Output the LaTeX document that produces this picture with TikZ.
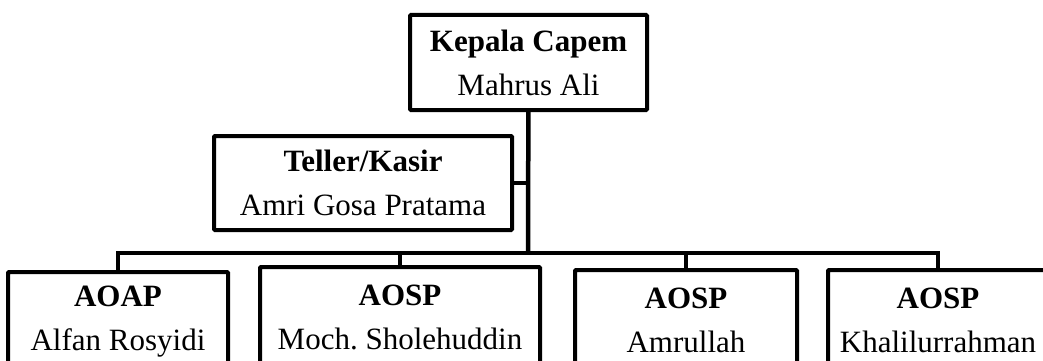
\documentclass[tikz,border=0pt]{standalone}
\usepackage{fontspec}
\setmainfont{Liberation Serif}
\tikzset{
  posbox/.style={
    draw,line width=4pt,rounded corners=1pt,align=center,inner sep=0pt,
    font=\fontsize{31}{44}\selectfont
  },
  link/.style={
    line width=4.5pt
  }
}

\begin{document}
\begin{tikzpicture}[x=1pt,y=-1pt]
\path[use as bounding box,clip] (0,0) rectangle (1043,361);
\node[posbox,minimum width=237pt,minimum height=95pt] (capem) at (528.5,62.5) {\textbf{Kepala Capem}\\Mahrus Ali};
\node[posbox,minimum width=298pt,minimum height=94pt] (teller) at (363,183) {\textbf{Teller/Kasir}\\Amri Gosa Pratama};
% bottom row runs off the page
\node[posbox,minimum width=220pt,minimum height=100pt] (aoap) at (118,322) {\textbf{AOAP}\\Alfan Rosyidi};
\node[posbox,minimum width=280pt,minimum height=100pt] (moch) at (400,317) {\textbf{AOSP}\\Moch.\ Sholehuddin};
\node[posbox,minimum width=222pt,minimum height=100pt] (amrullah) at (686,320) {\textbf{AOSP}\\Amrullah};
\node[posbox,minimum width=220pt,minimum height=100pt] (khalil) at (938,320) {\textbf{AOSP}\\Khalilurrahman};
\coordinate (bus) at (528,253);
\draw[link] (capem) -- (bus);
\draw[link] (teller) -- (teller -| bus);
\draw[link] (aoap.north) |- (bus) -| (khalil.north);
\draw[link] (moch.north) -- (moch.north |- bus);
\draw[link] (amrullah.north) -- (amrullah.north |- bus);
\end{tikzpicture}
\end{document}
